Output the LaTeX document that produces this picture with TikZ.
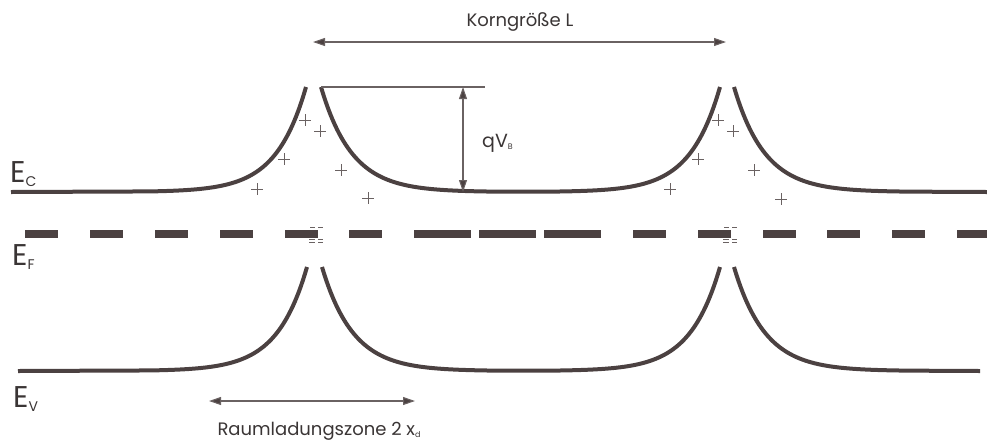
\documentclass[tikz,border=0pt]{standalone}
\usepackage{fontspec}
\setmainfont{Poppins}
\usetikzlibrary{arrows.meta}
\definecolor{band}{HTML}{4B4141}
\definecolor{thin}{HTML}{6A6262}
\definecolor{txt}{HTML}{3A3535}
\begin{document}
\begin{tikzpicture}[x=1pt,y=-1pt,
  bandline/.style={draw=band,line width=4pt},
  fermi/.style={draw=band,line width=8pt},
  thinline/.style={draw=thin,line width=1.1pt},
  dim/.style={draw=thin,line width=1.1pt,{Triangle[length=12pt,width=8pt,fill=band]}-{Triangle[length=12pt,width=8pt,fill=band]}},
  plusmark/.style={draw=thin,line width=1pt},
  charge/.style={draw=thin,line width=1pt},
  lbl/.style={inner sep=0pt,text=txt,font=\fontsize{18}{18}\selectfont},
  elbl/.style={inner sep=0pt,text=txt,anchor=base west}]
\useasboundingbox (0,0) rectangle (987,445);

% conduction band
\draw[bandline] (11,192) -- plot[domain=150:306,samples=80] (\x,{192-105*exp(-(306-\x)/30)});
\draw[bandline] plot[domain=321:500,samples=80] (\x,{192-105*exp(-(\x-321)/31)})
   -- plot[domain=560:720,samples=80] (\x,{192-105*exp(-(720-\x)/30)});
\draw[bandline] plot[domain=734:910,samples=80] (\x,{192-105*exp(-(\x-734)/31)}) -- (987,192);

% valence band
\draw[bandline] (18,371) -- plot[domain=150:307,samples=80] (\x,{371-104*exp(-(307-\x)/30)});
\draw[bandline] plot[domain=322:500,samples=80] (\x,{371-104*exp(-(\x-322)/31)})
   -- plot[domain=560:720,samples=80] (\x,{371-104*exp(-(720-\x)/30)});
\draw[bandline] plot[domain=734:910,samples=80] (\x,{371-104*exp(-(\x-734)/31)}) -- (980,371);

% Fermi level
\foreach \a/\b in {25/58,90/123,155/188,220/253,285/318,349/382,414/471,479/536,544/601,633/666,698/731,763/796,827/860,892/925,957/987}
  \draw[fermi] (\a,234) -- (\b,234);

% negative charges at grain boundaries
\foreach \c in {0,414}{
  \draw[charge] (310+\c,227) -- (315+\c,227) (318+\c,227) -- (323+\c,227);
  \draw[charge] (309+\c,239.5) -- (315+\c,239.5) (318+\c,239.5) -- (323+\c,239.5);
  \draw[charge] (309+\c,242.5) -- (315+\c,242.5) (318+\c,242.5) -- (323+\c,242.5);
}

% positive charges
\foreach \px/\py in {305/120,320/131,284/159,257/189,341/170,368/198,718/120,733/131,698/159,670/189,754/170,781/199}
  \draw[plusmark] (\px-6,\py) -- (\px+6,\py) (\px,\py-6) -- (\px,\py+6);

% barrier height
\coordinate (bt0) at (321,87);
\coordinate (bt1) at (485,87);
\draw[thinline] (bt0) -- (bt1);
\coordinate (qa) at (463,87);
\coordinate (qb) at (463,192);
\draw[dim] (qa) -- (qb);
\node[elbl] (qvb) at (482,147) {\fontsize{19}{19}\selectfont qV\raisebox{-2pt}{\fontsize{8}{8}\selectfont B}};

% grain size
\coordinate (ka) at (313,42);
\coordinate (kb) at (726,42);
\draw[dim] (ka) -- (kb);
\node[lbl,anchor=base] (kl) at (520,26) {Korngröße L};

% space charge zone
\coordinate (ra) at (209,401);
\coordinate (rb) at (415,401);
\draw[dim] (ra) -- (rb);
\node[lbl,anchor=base] (rl) at (319,435) {Raumladungszone 2 x\raisebox{-2pt}{\fontsize{8}{8}\selectfont d}};

% band labels
\node[elbl] (ec) at (10,182) {\fontsize{30}{30}\selectfont E\raisebox{-4pt}{\fontsize{14}{14}\selectfont C}};
\node[elbl] (ef) at (12,265) {\fontsize{30}{30}\selectfont E\raisebox{-4pt}{\fontsize{14}{14}\selectfont F}};
\node[elbl] (ev) at (13,407) {\fontsize{30}{30}\selectfont E\raisebox{-4pt}{\fontsize{14}{14}\selectfont V}};
\end{tikzpicture}
\end{document}
